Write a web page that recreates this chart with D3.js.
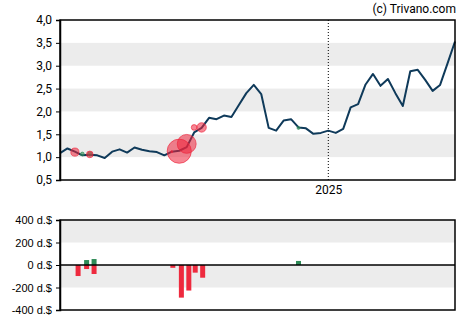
<!DOCTYPE html>
<html><head><meta charset="utf-8">
<script src="https://cdnjs.cloudflare.com/ajax/libs/d3/7.8.5/d3.min.js"></script>
<style>body{margin:0;background:#fff}svg{display:block}</style>
</head><body><svg id="c" width="470" height="325"></svg>
<script>
const dates = ["2024-04-24","2024-05-01","2024-05-08","2024-05-15","2024-05-22","2024-05-29","2024-06-05","2024-06-12","2024-06-19","2024-06-26","2024-07-03","2024-07-10","2024-07-17","2024-07-24","2024-07-31","2024-08-07","2024-08-14","2024-08-21","2024-08-28","2024-09-04","2024-09-11","2024-09-18","2024-09-25","2024-10-02","2024-10-09","2024-10-16","2024-10-23","2024-10-30","2024-11-06","2024-11-13","2024-11-20","2024-11-27","2024-12-04","2024-12-11","2024-12-18","2024-12-25","2025-01-01","2025-01-08","2025-01-15","2025-01-22","2025-01-29","2025-02-05","2025-02-12","2025-02-19","2025-02-26","2025-03-05","2025-03-12","2025-03-19","2025-03-26","2025-04-02","2025-04-09","2025-04-16","2025-04-23","2025-04-30"];
const prices = [1.09,1.19,1.12,1.04,1.05,1.04,0.98,1.12,1.17,1.10,1.21,1.16,1.13,1.11,1.04,1.12,1.14,1.22,1.54,1.64,1.86,1.83,1.91,1.88,2.14,2.40,2.58,2.38,1.64,1.58,1.80,1.83,1.65,1.63,1.51,1.53,1.58,1.53,1.62,2.09,2.16,2.59,2.82,2.56,2.71,2.40,2.12,2.88,2.91,2.69,2.45,2.58,3.05,3.53];
const priceTicks = [0.5,1.0,1.5,2.0,2.5,3.0,3.5,4.0];

// insider trades (bubbles on price chart)
const tradeDates = ["2024-05-15","2024-05-22","2024-12-04","2024-05-08","2024-05-22","2024-08-07","2024-08-14","2024-08-21","2024-08-28","2024-09-04"];
const tradePrices = [1.07,1.07,1.64,1.11,1.06,1.12,1.13,1.29,1.65,1.65];
const tradeValues = [44,53,36,-98,-80,-25,-290,-227,-68,-113];

// net flows (bottom bars)
const buyDates = ["2024-05-19","2024-05-26","2024-12-04"];
const buyValues = [44,53,36];
const sellDates = ["2024-05-11","2024-05-19","2024-05-26","2024-08-08","2024-08-16","2024-08-23","2024-08-29","2024-09-05"];
const sellValues = [-98,-36,-80,-25,-290,-227,-68,-113];
const flowTicks = [-400,-200,0,200,400];

const parse = d3.utcParse("%Y-%m-%d");
const svg = d3.select("#c");
const L = 60, R = 455;
const font = "Roboto, Arial, sans-serif";

const x = d3.scaleUtc().domain([parse(dates[0]), parse(dates[dates.length-1])]).range([L, R]);

// ---------- price chart ----------
const T1 = 20, B1 = 180;
const y = d3.scaleLinear().domain([0.5, 4.0]).range([B1, T1]);
[[1.0,1.5],[2.0,2.5],[3.0,3.5]].forEach(b => {
  svg.append("rect").attr("x", L).attr("width", R - L)
    .attr("y", y(b[1])).attr("height", y(b[0]) - y(b[1])).attr("fill", "#ececec");
});
const xJan = x(parse("2025-01-01"));
svg.append("line").attr("x1", xJan).attr("x2", xJan).attr("y1", T1).attr("y2", B1)
  .attr("stroke", "#000").attr("stroke-width", 1).attr("stroke-dasharray", "1,2");

svg.append("path").datum(prices)
  .attr("fill", "none").attr("stroke", "#0f3a5a").attr("stroke-width", 2).attr("stroke-linejoin", "round")
  .attr("d", d3.line().x((d, i) => x(parse(dates[i]))).y(d => y(d)));

const r = d3.scaleLinear().domain([0, 300]).range([0, 12.5]);
tradeValues.forEach((v, i) => {
  const neg = v < 0;
  svg.append("circle").attr("cx", x(parse(tradeDates[i]))).attr("cy", y(tradePrices[i]))
    .attr("r", r(Math.abs(v)))
    .attr("fill", neg ? "rgba(238,34,58,0.55)" : "rgba(46,139,87,0.6)")
    .attr("stroke", neg ? "rgba(238,34,58,0.8)" : "rgba(46,139,87,0.8)").attr("stroke-width", 0.8);
});

svg.append("rect").attr("x", L).attr("y", T1).attr("width", R - L).attr("height", B1 - T1)
  .attr("fill", "none").attr("stroke", "#000").attr("stroke-width", 1.5);

const yAxis = svg.append("g").attr("transform", `translate(${L},0)`)
  .call(d3.axisLeft(y).tickValues(priceTicks).tickSize(4).tickFormat(d => d3.format(".1f")(d).replace(".", ",")));
yAxis.select(".domain").attr("stroke-width", 1.5);
yAxis.selectAll("text").attr("font-family", font).attr("font-size", 12).attr("fill", "#000").attr("dx", "-1");

const xAxis = svg.append("g").attr("transform", `translate(0,${B1})`)
  .call(d3.axisBottom(x).tickValues([parse("2025-01-01")]).tickSize(0).tickFormat(() => "2025"));
xAxis.select(".domain").remove();
xAxis.selectAll("text").attr("font-family", font).attr("font-size", 12).attr("fill", "#000").attr("dy", "0.9em");

svg.append("text").attr("x", R + 1).attr("y", 13).attr("text-anchor", "end")
  .attr("font-family", font).attr("font-size", 12).attr("fill", "#000").text("(c) Trivano.com");

// ---------- flow chart ----------
const T2 = 220, B2 = 310;
const y2 = d3.scaleLinear().domain([-400, 400]).range([B2, T2]);
[[200,400],[-200,0]].forEach(b => {
  svg.append("rect").attr("x", L).attr("width", R - L)
    .attr("y", y2(b[1])).attr("height", y2(b[0]) - y2(b[1])).attr("fill", "#ececec");
});
const bw = 5;
sellDates.forEach((d, i) => {
  svg.append("rect").attr("x", x(parse(d)) - bw / 2).attr("width", bw)
    .attr("y", y2(0)).attr("height", y2(sellValues[i]) - y2(0)).attr("fill", "#ee2a3e");
});
buyDates.forEach((d, i) => {
  svg.append("rect").attr("x", x(parse(d)) - bw / 2).attr("width", bw)
    .attr("y", y2(buyValues[i])).attr("height", y2(0) - y2(buyValues[i])).attr("fill", "#2e8b57");
});
svg.append("line").attr("x1", L).attr("x2", R).attr("y1", y2(0)).attr("y2", y2(0))
  .attr("stroke", "#000").attr("stroke-width", 1.5);
svg.append("rect").attr("x", L).attr("y", T2).attr("width", R - L).attr("height", B2 - T2)
  .attr("fill", "none").attr("stroke", "#000").attr("stroke-width", 1.5);
const y2Axis = svg.append("g").attr("transform", `translate(${L},0)`)
  .call(d3.axisLeft(y2).tickValues(flowTicks).tickSize(4).tickFormat(d => d + " d.$"));
y2Axis.select(".domain").attr("stroke-width", 1.5);
y2Axis.selectAll("text").attr("font-family", "Arial, 'Liberation Sans', sans-serif").attr("font-size", 11).attr("fill", "#000").attr("dx", "-1");
</script></body></html>
